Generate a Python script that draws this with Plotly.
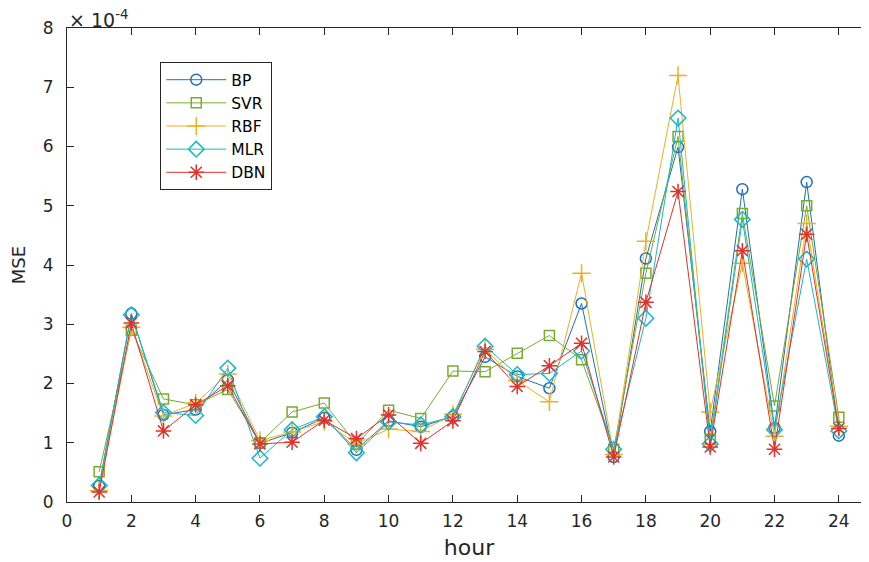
import plotly.graph_objects as go

hours = list(range(1, 25))
BP  = [0.27, 3.18, 1.47, 1.56, 2.06, 0.99, 1.17, 1.42, 0.88, 1.37, 1.27, 1.44, 2.45, 2.12, 1.92, 3.35, 0.76, 4.11, 5.99, 1.19, 5.28, 1.25, 5.40, 1.12]
SVR = [0.51, 2.90, 1.74, 1.64, 1.90, 1.00, 1.52, 1.67, 0.97, 1.55, 1.41, 2.21, 2.20, 2.51, 2.81, 2.40, 0.89, 3.86, 6.17, 1.06, 4.87, 1.62, 5.00, 1.43]
RBF = [0.19, 2.95, 1.45, 1.67, 2.16, 1.04, 1.18, 1.36, 0.98, 1.23, 1.19, 1.48, 2.58, 2.05, 1.69, 3.86, 0.80, 4.40, 7.20, 1.52, 4.03, 1.11, 4.70, 1.28]
MLR = [0.28, 3.16, 1.51, 1.46, 2.26, 0.74, 1.22, 1.44, 0.83, 1.35, 1.30, 1.44, 2.63, 2.15, 2.17, 2.55, 0.89, 3.10, 6.48, 0.98, 4.77, 1.22, 4.10, 1.20]
DBN = [0.17, 3.02, 1.20, 1.64, 1.96, 0.98, 1.01, 1.38, 1.07, 1.47, 0.99, 1.37, 2.54, 1.95, 2.30, 2.68, 0.76, 3.37, 5.24, 0.93, 4.24, 0.89, 4.52, 1.24]

series = [
    ("BP", BP, "#1f6fba", "circle-open", 11),
    ("SVR", SVR, "#77ac30", "square-open", 10),
    ("RBF", RBF, "#edb120", "cross-thin-open", 13),
    ("MLR", MLR, "#1ab7c6", "diamond-open", 12),
    ("DBN", DBN, "#e2312a", "asterisk-open", 13),
]

FONT = "DejaVu Sans, Liberation Sans, Arial"

fig = go.Figure()
for name, vals, color, sym, size in series:
    fig.add_trace(go.Scatter(
        x=hours, y=vals, name=name, mode="lines+markers",
        line=dict(color=color, width=1),
        marker=dict(symbol=sym, size=size, color=color, line=dict(color=color, width=1.5)),
    ))

axis_common = dict(
    showline=True, linecolor="#262626", linewidth=1.2, mirror="ticks",
    ticks="inside", ticklen=7, tickcolor="#262626", tickwidth=1.2,
    showgrid=False, zeroline=False, automargin=False,
    tickfont=dict(family=FONT, size=17, color="#262626"),
)

fig.update_layout(
    width=869, height=562,
    margin=dict(l=59, r=6, t=20, b=68),
    plot_bgcolor="white", paper_bgcolor="white",
    font=dict(family=FONT, color="#262626"),
    xaxis=dict(range=[0, 25], tickmode="array", tickvals=list(range(0, 25, 2)),
               ticklabelstandoff=3,
               title=dict(text="hour", font=dict(size=22), standoff=10), **axis_common),
    yaxis=dict(range=[0, 8], tickmode="array", tickvals=list(range(0, 9)),
               ticklabelstandoff=9,
               title=dict(text="MSE", font=dict(size=18), standoff=18), **axis_common),
    legend=dict(
        x=0.116, y=0.928, xanchor="left", yanchor="top",
        bgcolor="white", bordercolor="#262626", borderwidth=1,
        font=dict(family=FONT, size=15.5, color="#000000"),
        itemwidth=60, tracegroupgap=0,
    ),
    showlegend=True,
)

fig.add_annotation(
    xref="paper", yref="paper", x=0, y=1.0, xanchor="left", yanchor="bottom",
    text="× 10<sup>-4</sup>", showarrow=False, yshift=-5,
    font=dict(family=FONT, size=19, color="#262626"),
)

fig.write_html("out.html")
